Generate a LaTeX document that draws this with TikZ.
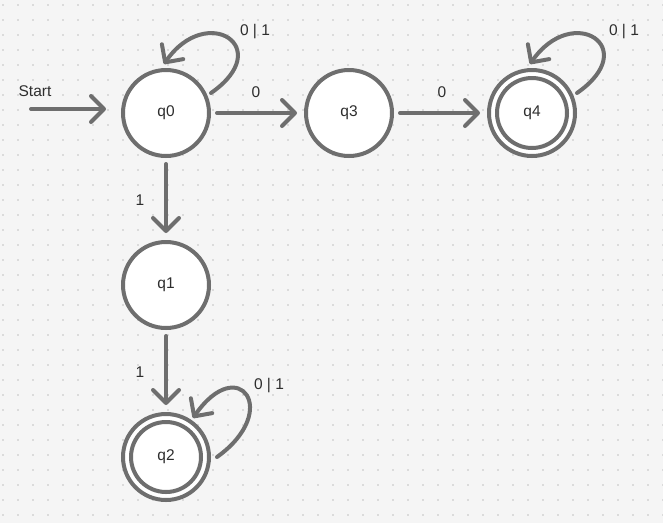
\documentclass[tikz,border=0pt]{standalone}
\usepackage{fontspec}
\setmainfont{Liberation Sans}
\usetikzlibrary{arrows.meta,calc}
\definecolor{bg}{HTML}{F5F5F5}
\definecolor{dotc}{HTML}{C2C2C2}
\definecolor{linec}{HTML}{6E6E6E}
\definecolor{txt}{HTML}{2E2E2E}
\tikzset{
  state/.style={circle, draw=linec, line width=4pt, fill=white, minimum size=86pt, inner sep=0pt,
    text=txt, font=\fontsize{15.5}{17}\selectfont},
  ring/.style={draw=linec, line width=4pt},
  arr/.style={draw=linec, line width=4pt, line cap=round, line join=round,
    -{Straight Barb[length=13pt, width=26pt, line cap=round, line join=round]}},
  tr/.style={arr, shorten <=6pt, shorten >=7pt},
  lbl/.style={text=txt, font=\fontsize{15.5}{17}\selectfont, inner sep=1pt}
}
\begin{document}
\begin{tikzpicture}[x=1pt,y=-1pt]
\fill[bg] (0,0) rectangle (663,523);
\useasboundingbox (0,0) rectangle (663,523);
\foreach \i in {0,...,44} {
  \foreach \j in {0,...,34} {
    \fill[dotc] ({3+15*\i},{5+15*\j}) circle (0.8pt);
  }
}
\node[state] (q0) at (166,113) {q0};
\node[state] (q3) at (349,113) {q3};
\node[state] (q4) at (532,113) {q4};
\node[state] (q1) at (166,285) {q1};
\node[state] (q2) at (166,457) {q2};
\draw[ring] (q4.center) circle (35pt);
\draw[ring] (q2.center) circle (35pt);

\coordinate (s) at (31,109);
\draw[arr, shorten >=15pt] (s) -- (s -| q0.west);
\draw[tr] (q0) -- (q3);
\draw[tr] (q3) -- (q4);
\draw[tr] (q0) -- (q1);
\draw[tr] (q1) -- (q2);

\draw[arr] ($(q0.center)+(45,-20)$) .. controls +(65.6,-45.6) and +(42.8,-61.5) .. ($(q0.center)+(-2,-49)$);
\draw[arr] ($(q4.center)+(45,-20)$) .. controls +(65.6,-45.6) and +(42.8,-61.5) .. ($(q4.center)+(-2,-49)$);
\draw[arr] ($(q2.center)+(51,0)$) .. controls +(64.8,-46.4) and +(45.6,-65.6) .. ($(q2.center)+(27,-39)$);

\node[lbl] (ls) at (35,91) {Start};
\node[lbl] (l03) at (256,92) {0};
\node[lbl] (l34) at (442,92) {0};
\node[lbl] (l01) at (140,200) {1};
\node[lbl] (l12) at (140,372) {1};
\node[lbl] (l00) at (255,32) {0 | 1};
\node[lbl] (l44) at (624,32) {0 | 1};
\node[lbl] (l22) at (269,386) {0 | 1};
\end{tikzpicture}
\end{document}
